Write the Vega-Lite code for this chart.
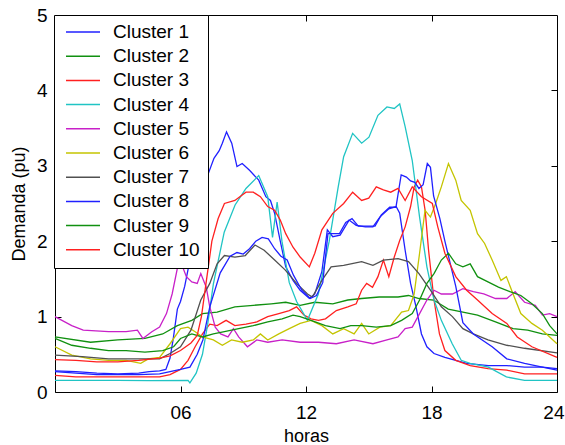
{
  "$schema": "https://vega.github.io/schema/vega-lite/v6.json",
  "width": 502,
  "height": 377,
  "autosize": {"type": "none"},
  "padding": {"left": 55, "top": 15, "right": 8, "bottom": 53},
  "background": "white",
  "config": {
    "view": {"stroke": "#000", "strokeWidth": 1},
    "font": "Liberation Sans",
    "axis": {"grid": false, "domain": false, "tickColor": "#000", "tickSize": -6, "labelFlush": false, "labelColor": "#000", "labelFontSize": 19, "labelFont": "Liberation Sans", "titleFont": "Liberation Sans", "titleFontSize": 18, "titleFontWeight": "normal", "titleColor": "#000"}
  },
  "data": {
    "values": [
      {"c": "Cluster 1",
       "h": [0,1,2,3,4,4.5,5,5.3,5.5,5.65,5.85,6.0,6.2,6.45,6.8,7.2,7.6,7.85,8.0,8.2,8.45,8.7,8.95,9.3,9.74,10.08,10.3,10.5,10.77,11.03,11.38,11.72,12.16,12.42,12.76,13.02,13.28,13.63,14.06,14.4,14.84,15.2,15.53,15.96,16.31,16.48,16.74,17.0,17.26,17.52,17.78,18.12,18.64,19.16,19.68,20.72,21.6,22.45,23.3,24],
       "v": [0.28,0.27,0.25,0.24,0.25,0.27,0.28,0.3,0.45,0.7,1.1,1.2,1.4,1.75,2.3,2.8,3.1,3.2,3.3,3.45,3.3,2.99,3.03,2.94,2.81,2.59,2.54,2.37,2.0,1.66,1.48,1.35,1.24,1.3,1.6,2.15,2.06,2.08,2.28,2.21,2.19,2.19,2.32,2.43,2.46,2.37,1.88,1.44,1.13,0.77,0.6,0.51,0.46,0.42,0.38,0.35,0.35,0.33,0.33,0.31]},
      {"c": "Cluster 2",
       "h": [0,1.7,3,4.3,5.15,5.85,6.54,7.05,7.75,8.6,9.48,10.34,11.03,11.72,12.42,13.28,14.0,14.66,15.5,16.4,16.9,17.4,18.1,18.8,19.5,20.2,21.06,21.9,22.6,23.3,24],
       "v": [0.73,0.66,0.69,0.71,0.77,0.88,0.95,1.04,1.06,1.13,1.15,1.17,1.19,1.15,1.19,1.17,1.22,1.24,1.26,1.26,1.28,1.24,1.22,1.1,1.06,1.02,0.93,0.84,0.82,0.77,0.75]},
      {"c": "Cluster 3",
       "h": [0,1,2,3,4,5,5.5,6.0,6.36,6.7,7.05,7.4,7.75,8.18,8.6,9.13,9.65,10.17,10.7,11.2,11.55,11.9,12.24,12.6,12.93,13.45,14.0,14.4,14.66,14.9,15.18,15.44,15.7,15.96,16.22,16.48,16.74,17.0,17.17,17.34,17.52,17.7,17.86,18.12,18.38,18.64,19.16,19.85,20.7,21.6,22.45,24],
       "v": [0.22,0.2,0.2,0.2,0.2,0.2,0.23,0.3,0.42,0.6,0.77,0.9,0.88,0.95,0.88,0.9,0.93,1.0,1.04,1.08,1.13,1.02,0.97,0.95,0.97,1.08,1.13,1.17,1.35,1.44,1.39,1.53,1.75,1.53,1.79,2.01,2.19,2.46,2.72,2.81,2.72,2.4,1.88,1.22,0.77,0.55,0.42,0.35,0.31,0.29,0.24,0.24]},
      {"c": "Cluster 4",
       "h": [0,3,4.5,6.36,6.45,6.75,7.05,7.3,7.57,8.09,8.61,9.13,9.74,10.17,10.4,10.62,10.85,11.2,11.55,12.07,12.59,13.11,13.54,13.8,14.23,14.66,15.01,15.44,15.87,16.22,16.48,16.74,17.08,17.43,17.78,18.12,18.47,18.99,19.42,19.85,20.72,21.58,22.45,24],
       "v": [0.155,0.155,0.15,0.155,0.12,0.25,0.5,0.9,1.43,2.12,2.48,2.7,2.87,2.59,2.05,2.52,2.0,1.45,1.2,0.95,1.3,2.0,2.72,3.12,3.43,3.3,3.38,3.67,3.78,3.76,3.82,3.52,3.07,2.32,1.66,1.22,0.95,0.64,0.42,0.38,0.33,0.2,0.155,0.155]},
      {"c": "Cluster 5",
       "h": [0,0.8,1.35,2.56,3.4,3.94,4.2,4.63,5.0,5.33,5.6,5.85,6.1,6.28,6.54,6.8,6.97,7.23,7.4,7.66,7.92,8.27,8.53,8.78,9.2,9.65,10.17,10.86,11.72,12.6,13.45,14.3,15.2,15.87,16.4,16.74,17.08,17.43,17.78,18.12,18.47,19.0,19.5,20.0,20.5,21.06,21.6,22.0,22.45,22.96,23.3,23.65,24],
       "v": [1.0,0.88,0.82,0.8,0.8,0.82,0.71,0.8,0.86,1.04,1.3,1.64,1.66,1.53,1.46,1.44,1.57,1.39,1.13,0.86,0.77,0.73,0.84,0.73,0.6,0.69,0.66,0.69,0.66,0.66,0.64,0.69,0.64,0.69,0.73,0.84,0.86,1.04,1.22,1.35,1.3,1.3,1.37,1.33,1.3,1.24,1.24,1.33,1.19,1.15,1.02,1.04,1.0]},
      {"c": "Cluster 6",
       "h": [0,0.8,1.7,2.56,3.4,4.1,4.46,5.0,5.5,6.0,6.36,6.7,7.05,7.57,8.0,8.44,8.96,9.48,9.82,10.17,10.7,11.2,11.72,12.24,12.76,13.28,13.8,14.3,14.66,15.0,15.53,16.05,16.57,16.9,17.17,17.43,17.69,17.95,18.2,18.47,18.81,19.16,19.42,19.85,20.2,20.54,20.9,21.32,21.58,21.9,22.27,22.8,23.3,24],
       "v": [0.6,0.49,0.44,0.42,0.42,0.38,0.44,0.46,0.64,0.84,0.86,0.8,0.73,0.69,0.62,0.69,0.66,0.69,0.77,0.69,0.77,0.84,0.91,0.95,0.88,0.77,0.84,0.77,0.91,0.77,0.86,0.88,1.06,1.08,1.3,1.84,2.41,2.32,2.5,2.72,3.03,2.81,2.54,2.41,2.1,1.97,1.75,1.48,1.53,1.3,1.04,0.91,0.82,0.64]},
      {"c": "Cluster 7",
       "h": [0,1.3,2.56,3.8,5.0,5.5,6.0,6.5,6.97,7.4,7.75,8.1,8.6,9.1,9.56,10.0,10.5,11.0,11.55,12.07,12.3,12.76,13.2,13.8,14.66,15.2,15.7,16.4,16.9,17.4,17.95,18.47,19.0,19.5,20.0,20.7,21.6,22.45,24],
       "v": [0.49,0.47,0.44,0.44,0.44,0.51,0.6,0.82,1.22,1.44,1.7,1.81,1.79,1.81,1.95,1.88,1.75,1.62,1.44,1.3,1.26,1.48,1.66,1.68,1.73,1.68,1.75,1.77,1.73,1.57,1.35,1.13,1.0,0.84,0.77,0.69,0.62,0.58,0.52]},
      {"c": "Cluster 8",
       "h": [0,1,2,3,4,5,5.5,6.0,6.45,6.8,7.07,7.4,7.9,8.37,8.7,9.0,9.3,9.6,9.9,10.2,10.5,10.8,11.1,11.4,11.8,12.2,12.5,12.8,13.05,13.3,13.6,13.9,14.2,14.5,14.9,15.3,15.6,16.0,16.3,16.55,16.8,17.0,17.2,17.4,17.6,17.8,17.95,18.1,18.4,18.64,18.9,19.16,19.5,20.0,20.9,21.6,22.45,23.3,24],
       "v": [0.27,0.25,0.23,0.23,0.23,0.24,0.27,0.3,0.33,0.5,0.69,1.13,1.58,1.8,1.85,1.83,1.9,2.0,2.05,2.03,1.9,1.8,1.75,1.55,1.35,1.24,1.28,1.45,2.1,2.1,2.1,2.25,2.3,2.2,2.2,2.2,2.35,2.45,2.45,2.88,2.85,2.8,2.78,2.7,2.75,3.03,2.98,2.6,2.3,2.0,1.7,1.4,0.92,0.77,0.6,0.44,0.38,0.33,0.29]},
      {"c": "Cluster 9",
       "h": [0,0.8,1.7,2.56,3.4,4.3,5.15,5.67,6.0,6.54,7.05,7.57,8.1,8.78,9.48,10.17,10.86,11.38,11.72,12.24,12.93,13.63,14.14,14.66,15.36,16.05,16.57,17.08,17.43,17.78,18.12,18.47,18.81,19.16,19.5,19.85,20.2,20.7,21.2,21.75,22.27,22.8,23.3,23.65,24],
       "v": [0.71,0.62,0.58,0.55,0.55,0.53,0.55,0.6,0.71,0.77,0.73,0.77,0.8,0.84,0.88,0.93,0.97,1.02,1.0,0.95,0.88,0.84,0.88,0.88,0.86,0.88,0.95,1.04,1.22,1.44,1.57,1.75,1.84,1.7,1.66,1.7,1.53,1.46,1.39,1.33,1.28,1.17,1.04,0.88,0.77]},
      {"c": "Cluster 10",
       "h": [0,1,2,3,4,5,5.5,6.0,6.5,6.8,7.0,7.25,7.5,7.8,8.1,8.6,9.13,9.48,9.82,10.17,10.5,10.77,11.03,11.38,11.72,12.16,12.42,12.76,13.28,13.8,14.23,14.66,15.0,15.36,15.7,16.05,16.4,16.74,17.08,17.52,18.04,18.3,18.64,19.16,19.68,20.2,20.9,21.6,22.1,22.8,24],
       "v": [0.43,0.42,0.4,0.4,0.42,0.45,0.48,0.55,0.65,0.75,1.0,1.5,2.0,2.3,2.5,2.54,2.65,2.65,2.59,2.46,2.41,2.28,2.1,1.92,1.79,1.66,1.84,2.15,2.37,2.5,2.65,2.54,2.57,2.72,2.68,2.65,2.7,2.54,2.72,2.59,2.5,2.19,1.84,1.53,1.35,1.22,1.04,0.91,0.73,0.6,0.46]}
    ]
  },
  "transform": [{"flatten": ["h", "v"]}],
  "layer": [
    {
      "mark": {"type": "line", "strokeWidth": 1.3},
      "encoding": {
        "x": {"field": "h", "type": "quantitative", "scale": {"domain": [0, 24], "nice": false},
              "axis": {"orient": "bottom", "values": [6, 12, 18, 24], "labelExpr": "datum.value == 6 ? '06' : datum.label", "title": "horas", "labelPadding": 17, "titlePadding": 5, "labelFlush": 1, "labelFlushOffset": 7}},
        "y": {"field": "v", "type": "quantitative", "scale": {"domain": [0, 5], "nice": false},
              "axis": {"orient": "left", "values": [0, 1, 2, 3, 4, 5], "title": "Demanda (pu)", "labelPadding": 14, "titlePadding": 8}},
        "color": {"field": "c", "type": "nominal",
                  "scale": {"domain": ["Cluster 1","Cluster 2","Cluster 3","Cluster 4","Cluster 5","Cluster 6","Cluster 7","Cluster 8","Cluster 9","Cluster 10"],
                            "range": ["#2020ff","#109010","#ff2020","#20c4c4","#c820c8","#c4c400","#505050","#2020ff","#109010","#ff2020"]},
                  "legend": {"orient": "none", "legendX": -1, "legendY": 0, "title": null, "symbolType": "stroke", "symbolSize": 1156, "symbolStrokeWidth": 1.5,
                             "clipHeight": 18,
                             "labelFontSize": 19, "labelFont": "Liberation Sans", "labelColor": "#000", "labelOffset": 12,
                             "fillColor": "#fff", "strokeColor": "#000", "padding": 8, "rowPadding": 5.2, "symbolOffset": 3}}
      }
    },
    {
      "mark": {"type": "line", "opacity": 0},
      "encoding": {
        "x": {"field": "h", "type": "quantitative", "scale": {"domain": [0, 24], "nice": false},
              "axis": {"orient": "top", "values": [6, 12, 18], "labels": false, "title": null}},
        "y": {"field": "v", "type": "quantitative", "scale": {"domain": [0, 5], "nice": false},
              "axis": {"orient": "right", "values": [1, 2, 3, 4], "labels": false, "title": null}}
      }
    }
  ],
  "resolve": {"axis": {"x": "independent", "y": "independent"}}
}
